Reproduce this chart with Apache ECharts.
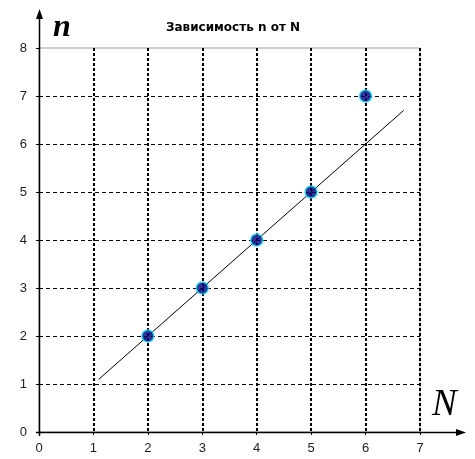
<!DOCTYPE html>
<html>
<head>
<meta charset="utf-8">
<script src="https://cdn.jsdelivr.net/npm/echarts@6/dist/echarts.min.js"></script>
<style>
  html, body { margin: 0; padding: 0; background: #fff; }
  #chart { width: 475px; height: 459px; }
</style>
</head>
<body>
<div id="chart"></div>
<script>
// измеренные точки
var pointsN = [2, 3, 4, 5, 6];
var pointsn = [2, 3, 4, 5, 7];
// линия тренда (концы)
var lineN = [1.1, 6.7];
var linen = [1.1, 6.7];
var titleText = 'Зависимость n от N';

var chart = echarts.init(document.getElementById('chart'));

function pairs(xs, ys) {
  return xs.map(function(x, i) { return [x, ys[i]]; });
}

var G = { left: 39, top: 48, width: 381, height: 384 };

chart.setOption({
  animation: false,
  title: {
    text: titleText,
    left: 228,
    top: 17,
    textAlign: 'center',
    textStyle: { fontFamily: 'DejaVu Sans', fontSize: 12, fontWeight: 'bold', color: '#000' }
  },
  grid: {
    left: G.left, top: G.top, width: G.width, height: G.height,
    show: true, borderColor: '#a0a0a0', borderWidth: 1, backgroundColor: 'transparent'
  },
  xAxis: {
    type: 'value', min: 0, max: 7, interval: 1,
    name: 'N',
    nameLocation: 'end',
    nameGap: 12,
    nameTextStyle: {
      fontFamily: 'Liberation Serif', fontStyle: 'italic', fontSize: 37, color: '#000',
      verticalAlign: 'bottom', padding: [0, 0, 8, 0]
    },
    axisLine: { show: false },
    axisTick: { show: true, length: 3, lineStyle: { color: '#000' } },
    axisLabel: { color: '#222', fontFamily: 'Arial', fontSize: 13, margin: 10 },
    splitLine: {
      show: true, showMinLine: false, showMaxLine: true,
      lineStyle: { color: '#000', width: 2, type: [3, 2] }
    }
  },
  yAxis: {
    type: 'value', min: 0, max: 8, interval: 1,
    name: 'n',
    nameLocation: 'end',
    nameGap: 4,
    nameTextStyle: {
      fontFamily: 'Liberation Serif', fontStyle: 'italic', fontWeight: 'bold', fontSize: 32, color: '#000',
      align: 'left', padding: [0, 0, 0, 14]
    },
    axisLine: { show: false },
    axisTick: { show: true, length: 3, lineStyle: { color: '#000' } },
    axisLabel: { color: '#222', fontFamily: 'Arial', fontSize: 13, margin: 12 },
    splitLine: {
      show: true, showMinLine: false, showMaxLine: false,
      lineStyle: { color: '#000', width: 1, type: [4, 3] }
    }
  },
  graphic: [
    // ось N со стрелкой
    { type: 'line', z: 10, shape: { x1: G.left - 3, y1: 432.5, x2: 460, y2: 432.5 }, style: { stroke: '#000', lineWidth: 1.5 } },
    { type: 'polygon', z: 10, shape: { points: [[466, 432.5], [456, 429], [456, 436]] }, style: { fill: '#000' } },
    // ось n со стрелкой
    { type: 'line', z: 10, shape: { x1: 39.5, y1: 436, x2: 39.5, y2: 14 }, style: { stroke: '#000', lineWidth: 1.5 } },
    { type: 'polygon', z: 10, shape: { points: [[39.5, 9], [36, 19], [43, 19]] }, style: { fill: '#000' } }
  ],
  series: [
    {
      type: 'line',
      data: pairs(lineN, linen),
      symbol: 'none',
      lineStyle: { color: '#000', width: 1 },
      z: 3
    },
    {
      type: 'scatter',
      data: pairs(pointsN, pointsn),
      symbol: 'circle',
      symbolSize: 12,
      itemStyle: { color: '#00007a', borderColor: '#00e5ff', borderWidth: 1.5 },
      z: 5
    }
  ]
});
</script>
</body>
</html>
